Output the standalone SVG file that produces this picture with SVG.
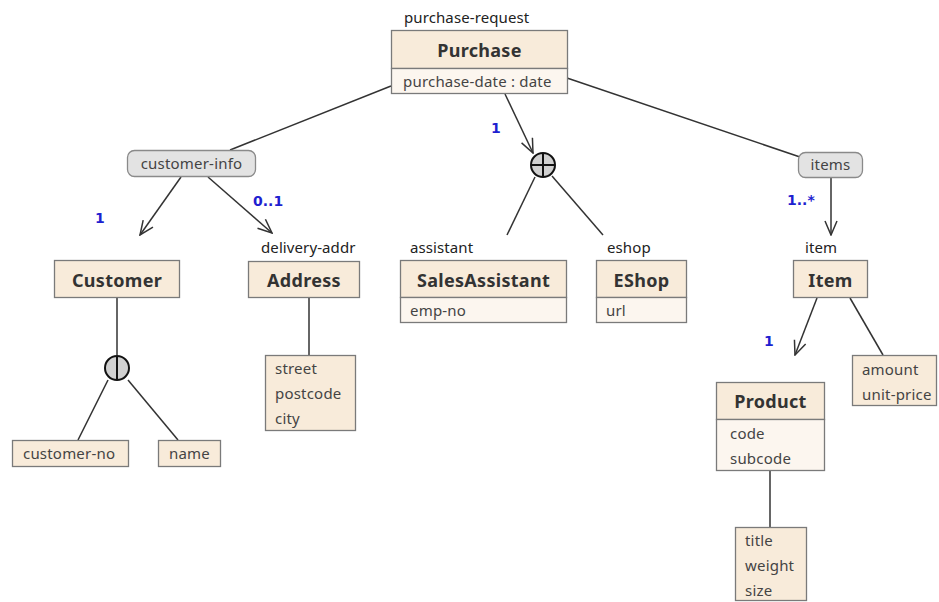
<svg xmlns="http://www.w3.org/2000/svg" width="939" height="602" viewBox="0 0 939 602">
<defs>
<style>
text{font-family:"Noto Sans","Open Sans","Liberation Sans",sans-serif;fill:#333}
.box{fill:#f8ebda;stroke:#7a7a7a;stroke-width:1.3}
.attr{fill:#fcf6ef;stroke:#7a7a7a;stroke-width:1.3}
.title{font-size:18px;font-weight:bold;text-anchor:middle;fill:#333;letter-spacing:0.3px}
.t{font-size:15px;fill:#444;letter-spacing:0.2px}
.lbl{font-size:15px;fill:#222;letter-spacing:0.1px}
.pill{fill:#e3e3e3;stroke:#8a8a8a;stroke-width:1.3}
.card{font-family:"DejaVu Sans","Liberation Sans",sans-serif;font-size:14px;font-weight:bold;fill:#1f1fd0}
.ln{stroke:#333;stroke-width:1.5;fill:none}
.arr{stroke:#333;stroke-width:1.5;fill:none;marker-end:url(#open)}
.sym{fill:#d0d0d0;stroke:#111;stroke-width:2}
</style>
<marker id="open" viewBox="0 0 16 14" refX="15" refY="7" markerWidth="16" markerHeight="14" markerUnits="userSpaceOnUse" orient="auto">
<path d="M1,1 L15,7 L1,13" fill="none" stroke="#333" stroke-width="1.5"/>
</marker>
</defs>
<rect width="939" height="602" fill="#fff"/>

<g id="connectors">
<line class="ln" x1="391" y1="86" x2="230" y2="150"/>
<line class="arr" x1="505" y1="94" x2="533" y2="153"/>
<line class="ln" x1="567" y1="78" x2="800" y2="157"/>
<line class="arr" x1="181" y1="177" x2="140" y2="235"/>
<line class="arr" x1="208" y1="177" x2="272" y2="233"/>
<line class="ln" x1="535" y1="177" x2="507" y2="235"/>
<line class="ln" x1="552" y1="176" x2="603" y2="235"/>
<line class="arr" x1="831" y1="177" x2="831" y2="235"/>
<line class="arr" x1="817" y1="298" x2="795" y2="355"/>
<line class="ln" x1="850" y1="298" x2="883" y2="355"/>
<line class="ln" x1="117" y1="298" x2="117" y2="355"/>
<line class="ln" x1="108" y1="380" x2="78" y2="440"/>
<line class="ln" x1="128" y1="380" x2="178" y2="440"/>
<line class="ln" x1="309" y1="298" x2="309" y2="355"/>
<line class="ln" x1="770" y1="471" x2="770" y2="527"/>
<text class="card" x="95" y="223">1</text>
<text class="card" x="253" y="206">0..1</text>
<text class="card" x="491" y="133">1</text>
<text class="card" x="787" y="205">1..*</text>
<text class="card" x="764" y="346">1</text>
</g>

<g id="purchase">
<text class="lbl" x="404" y="23">purchase-request</text>
<rect class="box" x="391.5" y="30.5" width="176" height="38"/>
<rect class="attr" x="391.5" y="68.5" width="176" height="25"/>
<text class="title" x="479.5" y="57">Purchase</text>
<text class="t" x="403" y="87">purchase-date : date</text>
</g>

<g id="customer-info">
<rect class="pill" x="127.5" y="150.5" width="128" height="26" rx="7"/>
<text class="t" x="191.5" y="169" text-anchor="middle">customer-info</text>
</g>

<g id="items">
<rect class="pill" x="798.5" y="152.5" width="64" height="25" rx="7"/>
<text class="t" x="830.5" y="170" text-anchor="middle">items</text>
</g>

<g id="choice">
<circle class="sym" cx="543" cy="165" r="12"/>
<line x1="531" y1="165" x2="555" y2="165" stroke="#111" stroke-width="2"/>
<line x1="543" y1="153" x2="543" y2="177" stroke="#111" stroke-width="2"/>
</g>

<g id="customer">
<rect class="box" x="54.5" y="260.5" width="125" height="37"/>
<text class="title" x="117" y="287">Customer</text>
</g>

<g id="key">
<circle class="sym" cx="117" cy="368" r="12"/>
<line x1="117" y1="356" x2="117" y2="380" stroke="#111" stroke-width="2"/>
</g>

<g id="customer-no">
<rect class="box" x="12.5" y="440.5" width="116" height="26"/>
<text class="t" x="23" y="459">customer-no</text>
</g>

<g id="name">
<rect class="box" x="158.5" y="440.5" width="62" height="26"/>
<text class="t" x="169" y="459">name</text>
</g>

<g id="address">
<text class="lbl" x="261" y="253">delivery-addr</text>
<rect class="box" x="248.5" y="261.5" width="111" height="36"/>
<text class="title" x="304" y="287">Address</text>
</g>

<g id="address-attrs">
<rect class="box" x="265.5" y="355.5" width="90" height="75"/>
<text class="t" x="275" y="374">street</text>
<text class="t" x="275" y="399">postcode</text>
<text class="t" x="275" y="424">city</text>
</g>

<g id="sales-assistant">
<text class="lbl" x="410" y="253">assistant</text>
<rect class="box" x="400.5" y="260.5" width="166" height="37"/>
<rect class="attr" x="400.5" y="297.5" width="166" height="25"/>
<text class="title" x="483.5" y="287">SalesAssistant</text>
<text class="t" x="410" y="316">emp-no</text>
</g>

<g id="eshop">
<text class="lbl" x="607" y="253">eshop</text>
<rect class="box" x="596.5" y="260.5" width="90" height="37"/>
<rect class="attr" x="596.5" y="297.5" width="90" height="25"/>
<text class="title" x="641.5" y="287">EShop</text>
<text class="t" x="606" y="316">url</text>
</g>

<g id="item">
<text class="lbl" x="805" y="253">item</text>
<rect class="box" x="793.5" y="260.5" width="74" height="37"/>
<text class="title" x="830.5" y="287">Item</text>
</g>

<g id="item-attrs">
<rect class="box" x="852.5" y="355.5" width="84" height="50"/>
<text class="t" x="862" y="375">amount</text>
<text class="t" x="862" y="400">unit-price</text>
</g>

<g id="product">
<rect class="box" x="716.5" y="382.5" width="108" height="37"/>
<rect class="attr" x="716.5" y="419.5" width="108" height="51"/>
<text class="title" x="770.5" y="408">Product</text>
<text class="t" x="730" y="439">code</text>
<text class="t" x="730" y="464">subcode</text>
</g>

<g id="product-attrs">
<rect class="box" x="735.5" y="527.5" width="71" height="73"/>
<text class="t" x="745" y="546">title</text>
<text class="t" x="745" y="571">weight</text>
<text class="t" x="745" y="596">size</text>
</g>
</svg>
